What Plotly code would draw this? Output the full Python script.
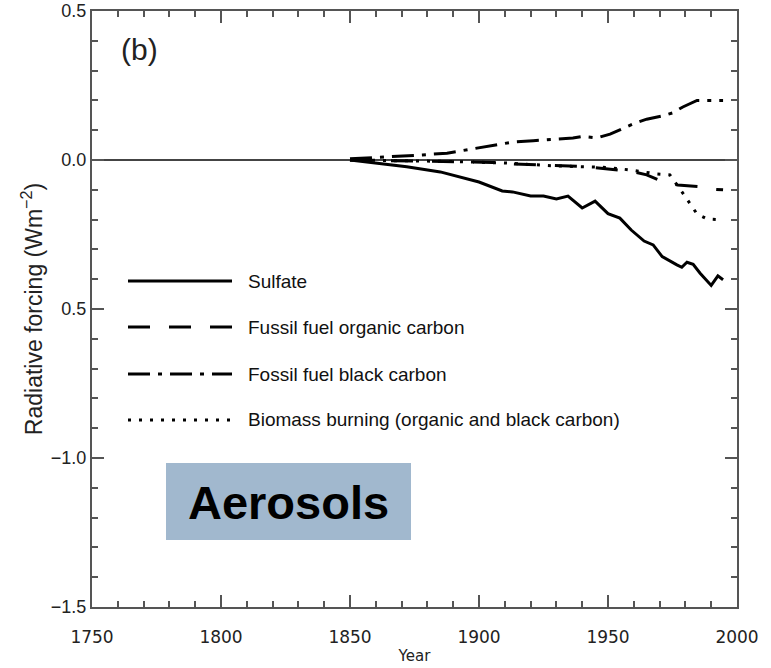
import plotly.graph_objects as go

# ---- data ----
sulfate_years = [1850, 1859, 1872, 1885, 1900, 1909, 1913, 1920, 1925, 1930, 1934.5, 1940, 1945,
                 1950, 1954.6, 1959, 1964, 1967.5, 1971, 1976.7, 1978.6, 1980.6, 1983, 1985.7,
                 1990, 1992.6, 1994.6]
sulfate_vals = [0.0, -0.01, -0.023, -0.04, -0.074, -0.104, -0.107, -0.121, -0.121, -0.131, -0.121,
                -0.161, -0.138, -0.18, -0.195, -0.235, -0.272, -0.285, -0.324, -0.352, -0.36,
                -0.343, -0.35, -0.38, -0.421, -0.389, -0.402]

organic_years = [1850, 1870, 1890, 1905, 1913, 1930, 1940, 1950, 1960, 1965, 1971, 1977, 1980,
                 1985.7, 1990.7, 1994.6]
organic_vals = [0.0, -0.003, -0.006, -0.008, -0.013, -0.018, -0.022, -0.03, -0.04, -0.05, -0.072,
                -0.084, -0.086, -0.09, -0.098, -0.1]

black_years = [1850, 1865.5, 1878, 1887.6, 1901.5, 1913, 1921, 1928.7, 1936.4, 1940, 1945.7,
               1950.8, 1955.8, 1960.5, 1965, 1971, 1975, 1979, 1984.5, 1989.5, 1994.6]
black_vals = [0.004, 0.01, 0.017, 0.023, 0.044, 0.06, 0.065, 0.07, 0.074, 0.079, 0.074,
              0.087, 0.107, 0.124, 0.137, 0.148, 0.158, 0.178, 0.2, 0.2, 0.2]

biomass_years = [1850, 1870, 1890, 1910, 1930, 1950, 1960, 1969, 1974, 1979, 1981.8, 1984.5,
                 1988.4, 1994.6]
biomass_vals = [0.0, -0.002, -0.005, -0.01, -0.02, -0.025, -0.035, -0.047, -0.05, -0.111, -0.145,
                -0.181, -0.198, -0.201]

series_names = ["Sulfate", "Fussil fuel organic carbon", "Fossil fuel black carbon",
                "Biomass burning (organic and black carbon)"]

x_tickvals = [1750, 1800, 1850, 1900, 1950, 2000]
x_ticktext = ["1750", "1800", "1850", "1900", "1950", "2000"]
y_tickvals = [-1.5, -1.0, -0.5, 0.0, 0.5]
y_ticktext = ["\u22121.5", "\u22121.0", "0.5", "0.0", "0.5"]

# ---- styles ----
dashes = ["solid", "22px,19px", "22px,8px,4px,8px", "3px,8px"]
LW = 3

fig = go.Figure()
all_series = [(sulfate_years, sulfate_vals), (organic_years, organic_vals),
              (black_years, black_vals), (biomass_years, biomass_vals)]
for (xs, ys), name, dash in zip(all_series, series_names, dashes):
    fig.add_trace(go.Scatter(x=xs, y=ys, mode="lines", name=name,
                             line=dict(color="black", width=LW, dash=dash),
                             showlegend=False))

# ---- manual legend (inside plot) ----
L, R, T, B = 92, 737, 11, 607
def px(x):
    return (x - L) / (R - L)
def py(y):
    return (B - y) / (B - T)

leg_y = [281, 327, 374, 420]
for yy, name, dash in zip(leg_y, series_names, dashes):
    fig.add_shape(type="line", xref="paper", yref="paper",
                  x0=px(128), x1=px(232), y0=py(yy), y1=py(yy),
                  line=dict(color="black", width=LW, dash=dash))
    fig.add_annotation(xref="paper", yref="paper", x=px(246), y=py(yy),
                       text=name, showarrow=False, xanchor="left", yanchor="middle",
                       font=dict(family="Liberation Sans", size=19, color="#111"))

# (b) label
fig.add_annotation(xref="paper", yref="paper", x=px(119), y=py(50), text="(b)",
                   showarrow=False, xanchor="left", yanchor="middle",
                   font=dict(family="Liberation Sans", size=30, color="#222"))

# Aerosols box
fig.add_shape(type="rect", xref="paper", yref="paper",
              x0=px(166), x1=px(411), y0=py(540), y1=py(463),
              fillcolor="#a1b8ce", line=dict(width=0), layer="above")
fig.add_annotation(xref="paper", yref="paper", x=px(288), y=py(502), text="<b>Aerosols</b>",
                   showarrow=False, xanchor="center", yanchor="middle",
                   font=dict(family="Liberation Sans", size=47, color="black"))

axis_color = "#555555"
fig.update_xaxes(range=[1750, 2000], tickvals=x_tickvals, ticktext=x_ticktext,
                 ticks="inside", ticklen=12, tickwidth=1.5, tickcolor=axis_color,
                 minor=dict(dtick=10, ticks="inside", ticklen=6, tickwidth=1.5,
                            tickcolor=axis_color),
                 showline=True, linecolor=axis_color, linewidth=2, mirror="ticks",
                 showgrid=False, zeroline=False, automargin=False,
                 ticklabelstandoff=14,
                 tickfont=dict(family="DejaVu Sans", size=17, color="#222"),
                 title=dict(text="Year", font=dict(family="DejaVu Sans", size=15, color="#222"),
                            standoff=4))
fig.update_yaxes(range=[-1.5, 0.5], tickvals=y_tickvals, ticktext=y_ticktext,
                 ticks="inside", ticklen=12, tickwidth=1.5, tickcolor=axis_color,
                 minor=dict(dtick=0.1, ticks="inside", ticklen=6, tickwidth=1.5,
                            tickcolor=axis_color),
                 showline=True, linecolor=axis_color, linewidth=2, mirror="ticks",
                 showgrid=False, zeroline=True, zerolinecolor="#444444", zerolinewidth=2,
                 automargin=False,
                 tickfont=dict(family="Liberation Sans", size=18, color="#222"),
                 title=dict(text="Radiative forcing (Wm<sup>\u22122</sup>)",
                            font=dict(family="Liberation Sans", size=23, color="#222"),
                            standoff=2))

fig.update_layout(width=771, height=668,
                  margin=dict(l=L, r=771 - R, t=T, b=668 - B, pad=0),
                  plot_bgcolor="white", paper_bgcolor="white")

fig.write_html("out.html")
